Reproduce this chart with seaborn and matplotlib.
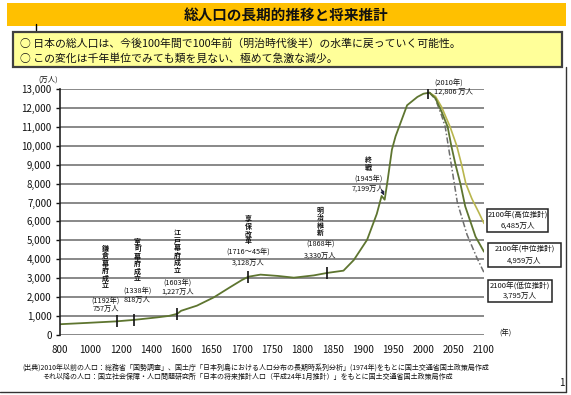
import numpy as np
import pandas as pd
import matplotlib
matplotlib.use("Agg")
import matplotlib.pyplot as plt
from matplotlib.patches import Rectangle
from matplotlib.lines import Line2D
import seaborn as sns

sns.set_theme(style="white")
plt.rcParams['font.family'] = ['Noto Sans CJK JP', 'DejaVu Sans']

# ---------------- data ----------------
tick_years = [800, 1000, 1200, 1400, 1600, 1650, 1700, 1750, 1800, 1850, 1900, 1950, 2000, 2050, 2100]
y_ticks = list(range(0, 13001, 1000))

hist_years = [800, 980, 1171, 1290, 1441, 1520, 1574, 1600, 1626, 1654, 1681, 1700, 1711, 1731, 1760,
              1786, 1819, 1841, 1868, 1885, 1907, 1923, 1931, 1936, 1941, 1948, 1954, 1973, 1990, 2000, 2010]
hist_pop = [570, 640, 720, 800, 930, 1010, 1120, 1280, 1550, 1990, 2530, 2900, 3080, 3190, 3120,
            3030, 3150, 3280, 3400, 3960, 5030, 6400, 7350, 7150, 8200, 9800, 10500, 12140, 12580, 12750, 12806]

high_years = [2010, 2020, 2030, 2044, 2055, 2063, 2070, 2080, 2091, 2100]
high_pop = [12806, 12600, 12050, 11000, 10000, 9000, 8000, 7200, 6500, 5900]
mid_years = [2010, 2020, 2030, 2040, 2046, 2053, 2061, 2069, 2086, 2100]
mid_pop = [12806, 12500, 11800, 11000, 10000, 9000, 8000, 6800, 5200, 4400]
low_years = [2010, 2020, 2030, 2036, 2041, 2046, 2051, 2056, 2072, 2088, 2100]
low_pop = [12806, 12450, 11600, 11000, 10000, 9000, 8000, 7000, 5300, 4100, 3300]

event_names = ["鎌倉幕府成立", "室町幕府成立", "江戸幕府成立", "享保改革", "明治維新", "終戦"]
event_periods = ["(1192年)", "(1338年)", "(1603年)", "(1716〜45年)", "(1868年)", "(1945年)"]
event_pops = ["757万人", "818万人", "1,227万人", "3,128万人", "3,330万人", "7,199万人"]
marker_years = [1175, 1290, 1575, 1711, 1841, 2008]

proj_names = ["高位推計", "中位推計", "低位推計"]
proj_2100 = [6485, 4959, 3795]

title = "総人口の長期的推移と将来推計"
summary = ["○ 日本の総人口は、今後100年間で100年前（明治時代後半）の水準に戻っていく可能性。",
           "○ この変化は千年単位でみても類を見ない、極めて急激な減少。"]
footer = ["(出典)2010年以前の人口：総務省「国勢調査」、国土庁「日本列島における人口分布の長期時系列分析」(1974年)をもとに国土交通省国土政策局作成",
          "それ以降の人口：国立社会保障・人口問題研究所「日本の将来推計人口（平成24年1月推計）」をもとに国土交通省国土政策局作成"]

# ---------------- figure ----------------
W, H = 571, 395
fig = plt.figure(figsize=(W / 100, H / 100), dpi=100)
fig.patch.set_facecolor("white")

def fx(x):
    return x / W

def fy(y):
    return 1 - y / H

def frect(x0, y0, x1, y1, **kw):
    fig.add_artist(Rectangle((fx(x0), fy(y1)), (x1 - x0) / W, (y1 - y0) / H,
                             transform=fig.transFigure, **kw))

# title bar
frect(7, 3, 566, 26, facecolor="#FFC000", edgecolor="none")
fig.text(fx(286), fy(15), title, ha="center", va="center", fontsize=10.5, fontweight="bold", color="#111111")
fig.add_artist(Line2D([fx(36), fx(36)], [fy(24), fy(30)], transform=fig.transFigure, color="black", lw=1))

# summary box
frect(13, 32, 562, 67, facecolor="#FFFF99", edgecolor="#404040", linewidth=1.6)
fig.text(fx(20), fy(44), summary[0], ha="left", va="center", fontsize=7.8, color="#111111")
fig.text(fx(20), fy(58), summary[1], ha="left", va="center", fontsize=7.8, color="#111111")

# frame lines
fig.add_artist(Line2D([fx(566), fx(566)], [fy(67), fy(392)], transform=fig.transFigure, color="#333333", lw=1))
fig.add_artist(Line2D([fx(0), fx(566)], [fy(392), fy(392)], transform=fig.transFigure, color="#333333", lw=1))

# ---------------- axes ----------------
ax = fig.add_axes([fx(60), fy(335), (484 - 60) / W, (335 - 89) / H])
ax.set_facecolor("white")

pos = np.arange(len(tick_years))

def fwd(x):
    return np.interp(x, tick_years, pos)

def inv(p):
    return np.interp(p, pos, tick_years)

df_hist = pd.DataFrame({"year": hist_years, "pop": hist_pop})
df_high = pd.DataFrame({"year": high_years, "pop": high_pop})
df_mid = pd.DataFrame({"year": mid_years, "pop": mid_pop})
df_low = pd.DataFrame({"year": low_years, "pop": low_pop})

sns.lineplot(data=df_high, x="year", y="pop", ax=ax, color="#B9B64E", lw=1.2)
sns.lineplot(data=df_low, x="year", y="pop", ax=ax, color="#6E6E6E", lw=1.1, linestyle=(0, (4, 1.5, 1, 1.5)))
sns.lineplot(data=df_mid, x="year", y="pop", ax=ax, color="#5E7530", lw=1.3)
sns.lineplot(data=df_hist, x="year", y="pop", ax=ax, color="#5E7530", lw=1.3)

ax.set_xscale("function", functions=(fwd, inv))
ax.set_xlim(800, 2100)
ax.set_ylim(0, 13000)
ax.set_xticks(tick_years)
ax.set_xticklabels([str(t) for t in tick_years], fontsize=7)
ax.set_yticks(y_ticks)
ax.set_yticklabels([f"{v:,}" for v in y_ticks], fontsize=7)
ax.set_xlabel("")
ax.set_ylabel("")
ax.yaxis.grid(True, color="#7F7F7F", lw=1.3)
ax.xaxis.grid(False)
ax.set_axisbelow(True)
for s in ["top", "right", "bottom"]:
    ax.spines[s].set_visible(False)
ax.spines["left"].set_color("#222222")
ax.spines["left"].set_linewidth(1.2)
ax.tick_params(axis="x", length=0, pad=7, colors="#111111")
ax.tick_params(axis="y", length=3, width=1, pad=3, colors="#111111", left=True)

# event markers
marker_vals = np.interp(marker_years, hist_years, hist_pop)
ax.plot(marker_years, marker_vals, linestyle="none", marker="|", ms=9, mew=1.2, color="#111111", zorder=5)

# event annotations (vertical text, one character per row)
ev_x = [1100, 1312, 1576, 1711, 1830, 1909]
ev_top = [4760, 5130, 5600, 6350, 6780, 9450]
ev_period_y = [1800, 2330, 2750, 4390, 4810, 8250]
ev_pop_y = [1370, 1850, 2270, 3800, 4180, 7720]
pitch_pt = 7.5 * 0.72  # ~7.5 px per character
for name, per, pp, x, ytop, yp, ypp in zip(event_names, event_periods, event_pops, ev_x, ev_top, ev_period_y, ev_pop_y):
    for i, ch in enumerate(name):
        ax.annotate(ch, xy=(x, ytop), xytext=(0, -i * pitch_pt), textcoords="offset points",
                    ha="center", va="top", fontsize=5.0, fontweight="bold", color="#111111")
    ax.text(x, yp, per, ha="center", va="center", fontsize=5.2, color="#111111")
    ax.text(x, ypp, pp, ha="center", va="center", fontsize=5.2, color="#111111")

ax.annotate("", xy=(1937, 7240), xytext=(1929, 7800),
            arrowprops=dict(arrowstyle="-|>", color="#222244", lw=0.8, mutation_scale=5))

ax.text(2018, 13270, "(2010年)", ha="left", va="center", fontsize=5.3, color="#111111", clip_on=False)
ax.text(2018, 12840, "12,806 万人", ha="left", va="center", fontsize=5.3, color="#111111", clip_on=False)

# projection boxes
boxes = [(487, 209, 548, 232), (488, 243, 561, 267), (488, 280, 552, 302)]
for (x0, y0, x1, y1), nm, v in zip(boxes, proj_names, proj_2100):
    frect(x0, y0, x1, y1, facecolor="white", edgecolor="#222222", linewidth=1.1)
    fig.text(fx((x0 + x1) / 2), fy(y0 + 6.5), f"2100年({nm})", ha="center", va="center", fontsize=5.5, color="#111111")
    fig.text(fx((x0 + x1) / 2), fy(y1 - 6), f"{v:,}万人", ha="center", va="center", fontsize=5.5, color="#111111")

# unit labels
fig.text(fx(48), fy(80), "(万人)", ha="center", va="center", fontsize=5.3, color="#111111")
fig.text(fx(505), fy(334), "(年)", ha="center", va="center", fontsize=5.3, color="#111111")

# footer
fig.text(fx(22), fy(368), footer[0], ha="left", va="center", fontsize=5.0, color="#111111")
fig.text(fx(42), fy(377), footer[1], ha="left", va="center", fontsize=5.0, color="#111111")
fig.text(fx(562), fy(383), "1", ha="center", va="center", fontsize=7, color="#111111")

fig.savefig("out.png", dpi=100)
